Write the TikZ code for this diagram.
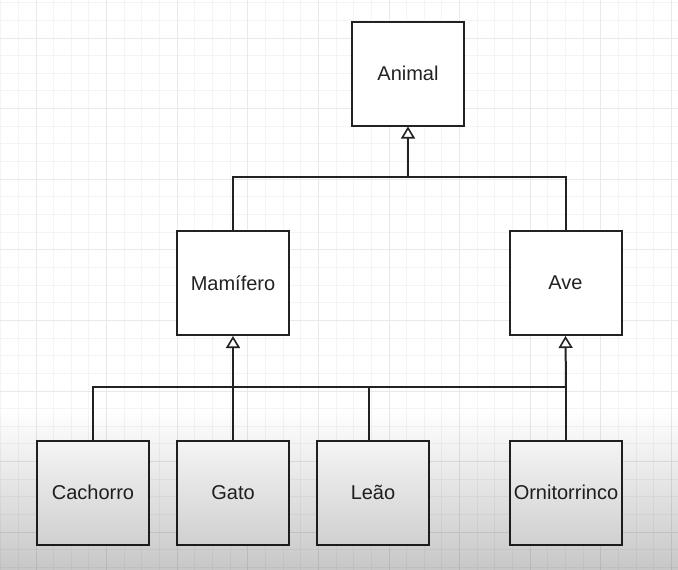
\documentclass[tikz,border=0pt]{standalone}
\usepackage{fontspec}
\setmainfont{Liberation Sans}
\usetikzlibrary{arrows.meta,fadings}

\definecolor{ink}{HTML}{222222}
\definecolor{gridminor}{HTML}{F4F4F4}
\definecolor{gridmajor}{HTML}{E9E9E9}
\tikzfading[name=fadedown, top color=transparent!100, bottom color=transparent!0]

\begin{document}
\begin{tikzpicture}[x=1pt,y=-1pt,
    classbox/.style={draw=ink,line width=2pt,fill=white,minimum width=112pt,
      minimum height=104pt,text=ink,font=\fontsize{20}{24}\selectfont},
    inherit/.style={draw=ink,line width=2pt,-{Triangle[open,width=14pt,length=12pt,line width=1.6pt]}},
    link/.style={draw=ink,line width=2pt}]

        \useasboundingbox (0,0) rectangle (678,570);
        \fill[white] (0,0) rectangle (678,570);

        % grid
        \foreach \i in {0,...,38} {
          \draw[gridminor,line width=1pt] ({0.7+\i*17.65},0) -- ++(0,570);
          \draw[gridminor,line width=1pt] (0,{2.7+\i*17.65}) -- ++(678,0);
        }
        \foreach \i in {0,...,9} {
          \draw[gridmajor,line width=1pt] ({36+\i*70.6},0) -- ++(0,570);
          \draw[gridmajor,line width=1pt] (0,{38+\i*70.6}) -- ++(678,0);
        }

        \begin{scope}[every node/.style={classbox}]
          \node (animal)   at (408,73.5)   {Animal};
          \node (mamifero) at (233,283)    {Mamífero};
          \node (ave)      at (565.5,283)  {Ave};
          \node (cachorro) at (93,492.5)   {Cachorro};
          \node (gato)     at (233,492.5)  {Gato};
          \node (leao)     at (373,492.5)  {Leão};
          \node (orni)     at (566,492.5)  {Ornitorrinco};
        \end{scope}

        \coordinate (topbus) at (408,177);
        \coordinate (lowbus) at (566,387);

        \draw[link] (mamifero.north) |- (topbus) -| (ave.north);
        \draw[inherit] (topbus) -- (animal.south);

        \draw[link] (cachorro.north) |- (lowbus);
        \draw[link] ([xshift=-4pt]leao.north) -- ++(0,-53);
        \draw[link] (orni.north) -- (lowbus);
        \draw[inherit] (gato.north) -- (mamifero.south);
        \draw[inherit] (lowbus) -- (ave.south);

        % shade at the bottom
        \fill[black,path fading=fadedown,fill opacity=0.22] (0,410) rectangle (678,570);

      \end{tikzpicture}
\end{document}
